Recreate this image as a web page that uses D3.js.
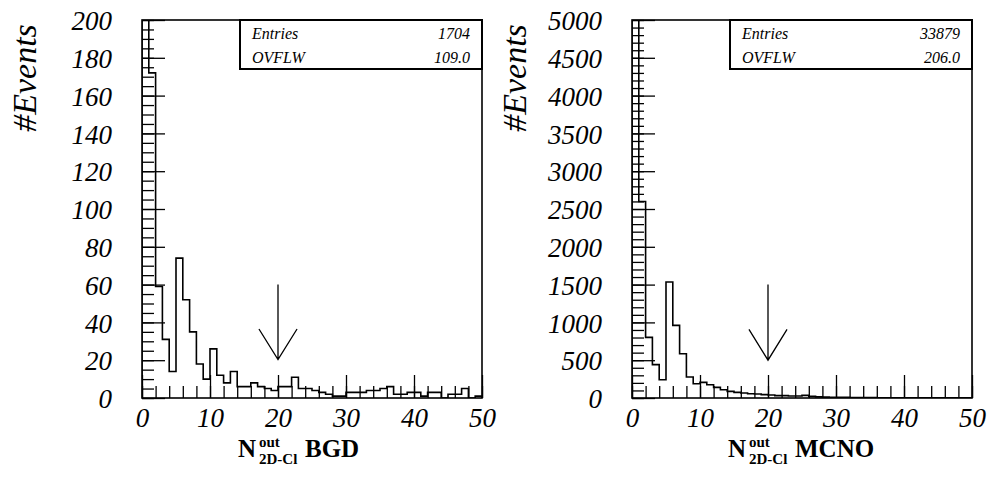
<!DOCTYPE html>
<html>
<head>
<meta charset="utf-8">
<script src="https://cdn.jsdelivr.net/npm/d3@7"></script>
<style>
  body { margin: 0; background: #fff; }
  svg { display: block; }
  text { font-family: "Liberation Serif", "DejaVu Serif", serif; fill: #000; }
</style>
</head>
<body>
<div id="graph"></div>
<script>
// bin contents, one bin per unit from 0 to 50
let bgd_counts = [934, 172, 59, 31, 14, 74, 52, 35, 18, 10,
                  26, 12, 8, 14, 6, 6, 8, 6, 5, 4,
                  6, 6, 11, 5, 5, 4, 3, 2, 1, 1,
                  3, 3, 3, 4, 4, 5, 6, 2, 2, 3,
                  3, 1, 3, 3, 0, 2, 2, 5, 0, 1];
let mcno_counts = [24709, 2600, 802, 441, 242, 1535, 961, 586, 278, 189,
                   207, 176, 140, 110, 88, 75, 66, 57, 53, 44,
                   40, 31, 31, 26, 26, 35, 22, 15, 12, 10,
                   10, 8, 7, 6, 5, 5, 4, 3, 3, 2,
                   2, 2, 2, 1, 1, 1, 1, 1, 1, 1];

let x_ticks = [0, 10, 20, 30, 40, 50];
let bgd_y_ticks = [0, 20, 40, 60, 80, 100, 120, 140, 160, 180, 200];
let mcno_y_ticks = [0, 500, 1000, 1500, 2000, 2500, 3000, 3500, 4000, 4500, 5000];

let bgd_stats = [["Entries", "1704"], ["OVFLW", "109.0"]];
let mcno_stats = [["Entries", "33879"], ["OVFLW", "206.0"]];

// cut arrow: x position, top and tip (data units)
let bgd_arrow = {x: 20, top: 60, tip: 20.3, head: 36.5, half: 2.8};
let mcno_arrow = {x: 20, top: 1500, tip: 500, head: 907, half: 2.8};

let width = 988, height = 492;

let svg = d3.select("#graph")
  .append("svg")
    .attr("width", width)
    .attr("height", height);

svg.append("rect").attr("width", width).attr("height", height).attr("fill", "#fff");

function draw_panel(opts) {
  let left = opts.left, right = opts.left + 340;
  let top = 20, bottom = 398;

  let xscale = d3.scaleLinear().domain([0, 50]).range([left, right]);
  let yscale = d3.scaleLinear().domain([0, opts.ymax]).range([bottom, top]);

  let g = svg.append("g");

  // minor ticks first
  let x_axis_minor = d3.axisBottom(xscale)
    .tickValues(d3.range(0, 50.001, 2))
    .tickSizeInner(-12).tickSizeOuter(0).tickFormat("");
  g.append("g").attr("transform", "translate(0," + bottom + ")").call(x_axis_minor);

  let y_axis_minor = d3.axisLeft(yscale)
    .tickValues(d3.range(0, opts.ymax + 0.001, opts.minor))
    .tickSizeInner(-12).tickSizeOuter(0).tickFormat("");
  g.append("g").attr("transform", "translate(" + left + ",0)").call(y_axis_minor);

  // major ticks with labels
  let x_axis = d3.axisBottom(xscale)
    .tickValues(x_ticks)
    .tickFormat(d3.format("d"))
    .tickSizeInner(-23).tickSizeOuter(0).tickPadding(10);
  g.append("g").attr("transform", "translate(0," + bottom + ")").call(x_axis);

  let y_axis = d3.axisLeft(yscale)
    .tickValues(opts.yticks)
    .tickFormat(d3.format("d"))
    .tickSizeInner(-23).tickSizeOuter(0).tickPadding(30);
  let yg = g.append("g").attr("transform", "translate(" + left + ",0)").call(y_axis);
  yg.selectAll("text").attr("dy", "0.36em");

  g.selectAll(".domain").remove();
  g.selectAll(".tick line").attr("stroke", "#000").attr("stroke-width", 1.3);
  g.selectAll(".tick text")
    .attr("fill", "#000")
    .attr("font-family", "Liberation Serif")
    .attr("font-size", 27)
    .attr("font-style", "italic")
    .style("font-family", "'Liberation Serif', serif")
    .style("font-style", "italic");

  // histogram outline, clipped to frame
  let clip_id = "clip" + opts.left;
  svg.append("clipPath").attr("id", clip_id)
    .append("rect").attr("x", left).attr("y", top)
    .attr("width", right - left).attr("height", bottom - top);

  let pts = [[0, 0]];
  opts.counts.forEach(function (c, i) { pts.push([i, c]); });
  pts.push([50, 0]);

  let line = d3.line()
    .x(function (d) { return xscale(d[0]); })
    .y(function (d) { return yscale(d[1]); })
    .curve(d3.curveStepAfter);

  svg.append("path")
    .datum(pts)
    .attr("clip-path", "url(#" + clip_id + ")")
    .attr("d", line)
    .attr("fill", "none")
    .attr("stroke", "#000")
    .attr("stroke-width", 1.6);

  // frame
  svg.append("rect")
    .attr("x", left).attr("y", top)
    .attr("width", right - left).attr("height", bottom - top)
    .attr("fill", "none").attr("stroke", "#000").attr("stroke-width", 1.6);

  // arrow
  let a = opts.arrow;
  svg.append("path")
    .attr("d", "M" + xscale(a.x) + "," + yscale(a.top) + "L" + xscale(a.x) + "," + yscale(a.tip) +
               "M" + xscale(a.x - a.half) + "," + yscale(a.head) + "L" + xscale(a.x) + "," + yscale(a.tip) +
               "L" + xscale(a.x + a.half) + "," + yscale(a.head))
    .attr("fill", "none").attr("stroke", "#000").attr("stroke-width", 1.3);

  // stats box
  let bw = 242, bh = 49;
  svg.append("rect")
    .attr("x", right - bw).attr("y", top)
    .attr("width", bw).attr("height", bh)
    .attr("fill", "#fff").attr("stroke", "#000").attr("stroke-width", 2);
  opts.stats.forEach(function (s, i) {
    let yy = top + 19 + i * 24;
    svg.append("text").attr("x", right - bw + 12).attr("y", yy)
      .style("font-size", "16px").style("font-style", "italic").text(s[0]);
    svg.append("text").attr("x", right - 12).attr("y", yy)
      .attr("text-anchor", "end")
      .style("font-size", "16px").style("font-style", "italic").text(s[1]);
  });

  // y title
  svg.append("text")
    .attr("transform", "translate(" + (left - 106) + ",78) rotate(-90)")
    .attr("text-anchor", "middle")
    .style("font-size", "34px").style("font-style", "italic")
    .text("#Events");

  // x title: N^out_2D-Cl + label
  let tx = left + 96, ty = 457;
  svg.append("text").attr("x", tx).attr("y", ty)
    .style("font-size", "25px").style("font-weight", "bold").text("N");
  svg.append("text").attr("x", tx + 21).attr("y", ty - 10)
    .style("font-size", "15px").style("font-weight", "bold").text("out");
  svg.append("text").attr("x", tx + 21).attr("y", ty + 7)
    .style("font-size", "15px").style("font-weight", "bold").text("2D-Cl");
  svg.append("text").attr("x", tx + 67).attr("y", ty)
    .style("font-size", "25px").style("font-weight", "bold").text(opts.label);
}

draw_panel({left: 142, ymax: 200, minor: 5, yticks: bgd_y_ticks, counts: bgd_counts,
            arrow: bgd_arrow, stats: bgd_stats, label: "BGD"});
draw_panel({left: 632, ymax: 5000, minor: 100, yticks: mcno_y_ticks, counts: mcno_counts,
            arrow: mcno_arrow, stats: mcno_stats, label: "MCNO"});
</script>
</body>
</html>
